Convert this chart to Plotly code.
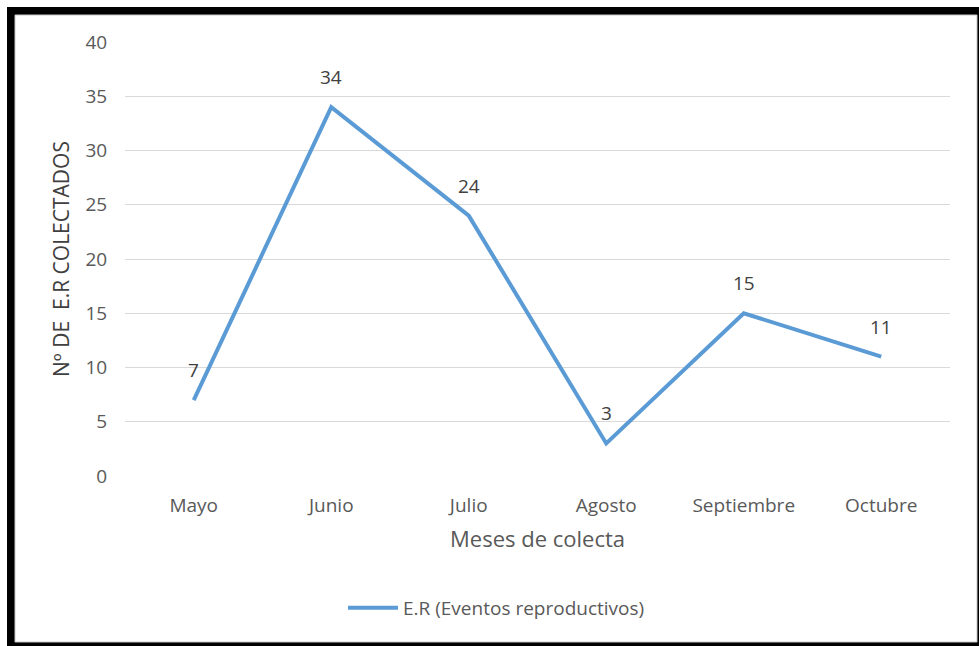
import plotly.graph_objects as go

# Monthly counts of reproductive events (E.R)
months = ["Mayo", "Junio", "Julio", "Agosto", "Septiembre", "Octubre"]
events = [7, 34, 24, 3, 15, 11]
y_ticks = [0, 5, 10, 15, 20, 25, 30, 35, 40]

W, H = 979, 646
ML, MR, MT, MB = 125, 29, 42, 170
PW, PH = W - ML - MR, H - MT - MB


def px_x(px):
    return (px - ML) / PW


def px_y(py):
    return (H - MB - py) / PH


FONT = "Open Sans"
BLUE = "#5B9BD5"

fig = go.Figure()
fig.add_trace(go.Scatter(
    x=months, y=events, mode="lines",
    name="E.R (Eventos reproductivos)",
    line=dict(color=BLUE, width=4),
    hoverinfo="x+y",
))

# value labels above each point
for m, v in zip(months, events):
    fig.add_annotation(x=m, y=v, text=str(v), showarrow=False,
                       yshift=30, font=dict(family=FONT, size=19, color="#404040"))

# framed background: black outline with a white card inside
fig.add_shape(type="rect", xref="paper", yref="paper", layer="below",
              x0=px_x(7), x1=px_x(980), y0=px_y(647), y1=px_y(7),
              fillcolor="black", line=dict(width=0))
fig.add_shape(type="rect", xref="paper", yref="paper", layer="below",
              x0=px_x(15), x1=px_x(977), y0=px_y(642), y1=px_y(15),
              fillcolor="white", line=dict(color="#C8C8C8", width=1))

fig.update_layout(
    width=W, height=H,
    margin=dict(l=ML, r=MR, t=MT, b=MB),
    paper_bgcolor="white",
    plot_bgcolor="rgba(0,0,0,0)",
    font=dict(family=FONT, size=19, color="#595959"),
    showlegend=True,
    legend=dict(orientation="h", x=px_x(343), xanchor="left",
                y=px_y(589), yanchor="top", itemwidth=50,
                font=dict(family=FONT, size=19, color="#595959"),
                bgcolor="rgba(0,0,0,0)"),
    xaxis=dict(
        type="category", range=[-0.5, 5.5],
        showgrid=False, showline=False, zeroline=False,
        ticks="outside", ticklen=12, tickcolor="rgba(0,0,0,0)",
        tickfont=dict(family=FONT, size=19, color="#595959"),
        title=dict(text="Meses de colecta", standoff=14,
                   font=dict(family=FONT, size=22, color="#595959")),
        fixedrange=True,
    ),
    yaxis=dict(
        range=[0, 40], tickvals=y_ticks,
        showgrid=True, gridcolor="#D9D9D9", gridwidth=1,
        zeroline=False, showline=False,
        ticks="outside", ticklen=13, tickcolor="rgba(0,0,0,0)",
        tickfont=dict(family=FONT, size=19, color="#595959"),
        title=dict(text="Nº DE  E.R COLECTADOS", standoff=10,
                   font=dict(family=FONT, size=21, color="#404040")),
        fixedrange=True,
    ),
)

fig.write_html("out.html")
